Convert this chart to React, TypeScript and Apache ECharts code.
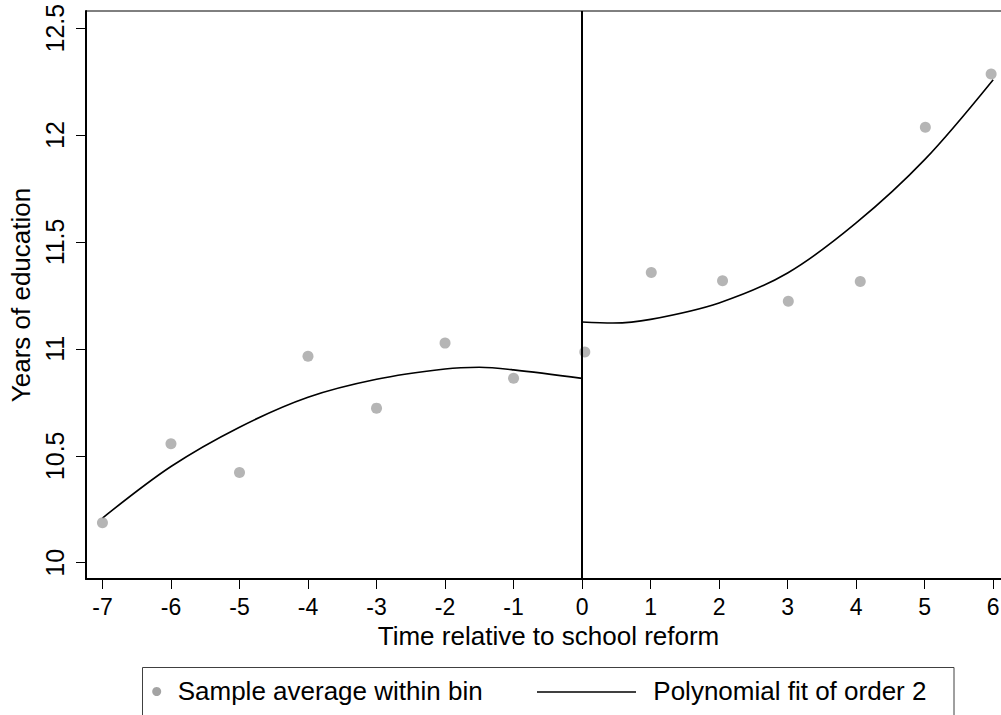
import React, { useEffect, useRef } from "react";
import * as echarts from "echarts";

const xTicks = [-7, -6, -5, -4, -3, -2, -1, 0, 1, 2, 3, 4, 5, 6];
const yTicks = [10, 10.5, 11, 11.5, 12, 12.5];

const binX = [-7, -6, -5, -4, -3, -2, -1, 0.04, 1.01, 2.05, 3.01, 4.06, 5.01, 5.97];
const binMean = [10.187, 10.556, 10.422, 10.966, 10.723, 11.027, 10.863, 10.985, 11.357, 11.319, 11.223, 11.315, 12.036, 12.285];

const leftFitX = [-7, -6, -5, -4, -3, -2, -1.5, -1, 0];
const leftFitY = [10.209, 10.45, 10.634, 10.774, 10.858, 10.906, 10.914, 10.902, 10.862];
const rightFitX = [0, 0.45, 1, 2, 3, 4, 5, 6];
const rightFitY = [11.126, 11.121, 11.138, 11.215, 11.355, 11.589, 11.885, 12.259];

const legendNames = ["Sample average within bin", "Polynomial fit of order 2"];
const xTitle = "Time relative to school reform";
const yTitle = "Years of education";

const FONT = "'Liberation Sans', Arial, sans-serif";

export default function App() {
  const ref = useRef<HTMLDivElement>(null);
  useEffect(() => {
    if (!ref.current) return;
    const chart = echarts.init(ref.current, null, { renderer: "svg" });
    const zip = (xs: number[], ys: number[]) => xs.map((x, i) => [x, ys[i]]);
    chart.setOption({
      animation: false,
      backgroundColor: "#fff",
      textStyle: { fontFamily: FONT, color: "#000" },
      grid: {
        left: 86,
        top: 11,
        width: 925,
        height: 568,
        containLabel: false,
        outerBoundsMode: "none",
        show: true,
        borderColor: "#000",
        borderWidth: 1,
        backgroundColor: "#fff",
      },
      xAxis: {
        type: "value",
        min: -7.24,
        max: 6.26,
        name: xTitle,
        nameLocation: "middle",
        nameGap: 41,
        nameTextStyle: { fontSize: 26, color: "#000", fontFamily: FONT },
        axisLine: { show: true, onZero: false, lineStyle: { color: "#000", width: 2 } },
        axisTick: { show: true, length: 10, customValues: xTicks, lineStyle: { color: "#000", width: 1 } },
        axisLabel: { customValues: xTicks, fontSize: 23, color: "#000", margin: 16, fontFamily: FONT },
        splitLine: { show: false },
      },
      yAxis: {
        type: "value",
        min: 9.924,
        max: 12.58,
        name: yTitle,
        nameLocation: "middle",
        nameGap: 47,
        nameRotate: 90,
        nameTextStyle: { fontSize: 26, color: "#000", fontFamily: FONT },
        axisLine: { show: true, onZero: false, lineStyle: { color: "#000", width: 2 } },
        axisTick: { show: true, length: 10, customValues: yTicks, lineStyle: { color: "#000", width: 1 } },
        axisLabel: { customValues: yTicks, fontSize: 25, color: "#000", margin: 19, rotate: 90, fontFamily: FONT },
        splitLine: { show: false },
      },
      series: [
        {
          name: legendNames[1],
          type: "line",
          data: zip(leftFitX, leftFitY),
          smooth: 0.33,
          showSymbol: false,
          symbol: "none",
          lineStyle: { color: "#000", width: 1.6 },
          z: 3,
        },
        {
          name: legendNames[1],
          type: "line",
          data: zip(rightFitX, rightFitY),
          smooth: 0.33,
          showSymbol: false,
          symbol: "none",
          lineStyle: { color: "#000", width: 1.6 },
          z: 3,
        },
        {
          name: legendNames[0],
          type: "scatter",
          data: zip(binX, binMean),
          symbol: "circle",
          symbolSize: 11,
          itemStyle: { color: "#a3a3a3" },
          z: 4,
          markLine: {
            silent: true,
            symbol: ["none", "none"],
            label: { show: false },
            lineStyle: { color: "#000", width: 2, type: "solid" },
            data: [{ xAxis: 0 }],
          },
        },
      ],
      graphic: [
        {
          type: "rect",
          shape: { x: 142.5, y: 667.5, width: 811.5, height: 80 },
          style: { fill: "#fff", stroke: "#404040", lineWidth: 1 },
        },
        {
          type: "circle",
          shape: { cx: 156.7, cy: 691.5, r: 4.5 },
          style: { fill: "#a3a3a3" },
        },
        {
          type: "text",
          x: 177.7,
          y: 691,
          style: { text: legendNames[0], font: `26px ${FONT}`, fill: "#000", verticalAlign: "middle", align: "left" },
        },
        {
          type: "line",
          shape: { x1: 537, y1: 692, x2: 636, y2: 692 },
          style: { stroke: "#000", lineWidth: 1.6 },
        },
        {
          type: "text",
          x: 653.3,
          y: 691,
          style: { text: legendNames[1], font: `26px ${FONT}`, fill: "#000", verticalAlign: "middle", align: "left" },
        },
      ],
    });
    return () => chart.dispose();
  }, []);
  return (
    <div
      ref={ref}
      style={{ position: "absolute", left: 0, top: 0, width: 1001, height: 715, background: "#fff" }}
    />
  );
}
